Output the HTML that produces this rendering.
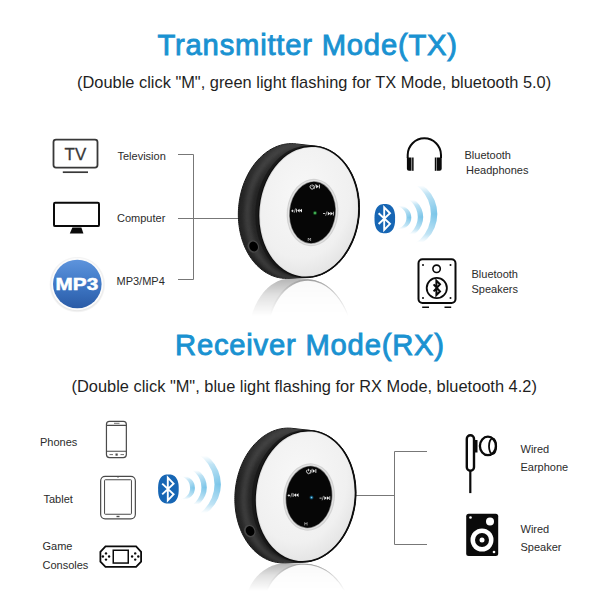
<!DOCTYPE html>
<html><head><meta charset="utf-8">
<style>
html,body{margin:0;padding:0;background:#fff;width:600px;height:600px;overflow:hidden}
svg{display:block}
text{font-family:"Liberation Sans",sans-serif}
.t{fill:#1a92d1;stroke:#1a92d1;stroke-width:0.9px;font-size:29.2px;letter-spacing:0.8px}
.s{fill:#1f1f1f;font-size:16.4px}
.l{fill:#2b2b2b;font-size:11px}
.ln{stroke:#777;stroke-width:1;fill:none}
</style></head><body>
<svg width="600" height="600" viewBox="0 0 600 600">
<defs>
<linearGradient id="bodyG" x1="250" y1="143" x2="280" y2="279" gradientUnits="userSpaceOnUse">
<stop offset="0" stop-color="#363636"/>
<stop offset="0.35" stop-color="#242424"/>
<stop offset="0.75" stop-color="#262626"/>
<stop offset="1" stop-color="#151515"/>
</linearGradient>
<radialGradient id="faceG" cx="0.42" cy="0.38" r="0.65">
<stop offset="0" stop-color="#f8f8f8"/>
<stop offset="0.75" stop-color="#f0f0f0"/>
<stop offset="1" stop-color="#e4e4e4"/>
</radialGradient>
<linearGradient id="reflGr" x1="0" y1="278" x2="0" y2="316" gradientUnits="userSpaceOnUse">
<stop offset="0" stop-color="#fff" stop-opacity="0.55"/>
<stop offset="0.5" stop-color="#fff" stop-opacity="0.25"/>
<stop offset="1" stop-color="#fff" stop-opacity="0"/>
</linearGradient>
<mask id="reflM" maskUnits="userSpaceOnUse" x="0" y="0" width="600" height="600"><rect x="0" y="278.5" width="600" height="40" fill="url(#reflGr)"/></mask>
<radialGradient id="dotG"><stop offset="0" stop-color="#8fe08f"/><stop offset="0.35" stop-color="#2a9a40"/><stop offset="1" stop-color="#0a3a12" stop-opacity="0"/></radialGradient>
<radialGradient id="dotB"><stop offset="0" stop-color="#8fd0ea"/><stop offset="0.35" stop-color="#1f7aa6"/><stop offset="1" stop-color="#0a2a3a" stop-opacity="0"/></radialGradient>
<linearGradient id="wg0" x1="0" y1="0" x2="0" y2="1"><stop offset="0" stop-color="#bfe6f5" stop-opacity="0"/><stop offset="0.5" stop-color="#8fd0ec"/><stop offset="1" stop-color="#bfe6f5" stop-opacity="0"/></linearGradient>
<linearGradient id="wg1" x1="0" y1="0" x2="0" y2="1"><stop offset="0" stop-color="#bfe6f5" stop-opacity="0"/><stop offset="0.5" stop-color="#8fd0ec"/><stop offset="1" stop-color="#bfe6f5" stop-opacity="0"/></linearGradient>
<linearGradient id="wg2" x1="0" y1="0" x2="0" y2="1"><stop offset="0" stop-color="#bfe6f5" stop-opacity="0"/><stop offset="0.5" stop-color="#8fd0ec"/><stop offset="1" stop-color="#bfe6f5" stop-opacity="0"/></linearGradient>
<linearGradient id="wv0" x1="393.52" y1="0" x2="411.3" y2="0" gradientUnits="userSpaceOnUse"><stop offset="0" stop-color="#cdeaf8"/><stop offset="1" stop-color="#78c4e8"/></linearGradient><linearGradient id="wmg0" x1="0" y1="205.77" x2="0" y2="229.23" gradientUnits="userSpaceOnUse"><stop offset="0" stop-color="#fff" stop-opacity="0"/><stop offset="0.15" stop-color="#fff" stop-opacity="0.55"/><stop offset="0.5" stop-color="#fff" stop-opacity="1"/><stop offset="0.85" stop-color="#fff" stop-opacity="0.55"/><stop offset="1" stop-color="#fff" stop-opacity="0"/></linearGradient><mask id="wm0" maskUnits="userSpaceOnUse" x="0" y="0" width="600" height="600"><rect x="377.7" y="205.77" width="43.6" height="23.45999999999998" fill="url(#wmg0)"/></mask><linearGradient id="wv1" x1="394.48" y1="0" x2="423.2" y2="0" gradientUnits="userSpaceOnUse"><stop offset="0" stop-color="#cdeaf8"/><stop offset="1" stop-color="#78c4e8"/></linearGradient><linearGradient id="wmg1" x1="0" y1="199.864" x2="0" y2="234.136" gradientUnits="userSpaceOnUse"><stop offset="0" stop-color="#fff" stop-opacity="0"/><stop offset="0.15" stop-color="#fff" stop-opacity="0.55"/><stop offset="0.5" stop-color="#fff" stop-opacity="1"/><stop offset="0.85" stop-color="#fff" stop-opacity="0.55"/><stop offset="1" stop-color="#fff" stop-opacity="0"/></linearGradient><mask id="wm1" maskUnits="userSpaceOnUse" x="0" y="0" width="600" height="600"><rect x="370.8" y="199.864" width="62.4" height="34.27199999999999" fill="url(#wmg1)"/></mask><linearGradient id="wv2" x1="391.52000000000004" y1="0" x2="437.3" y2="0" gradientUnits="userSpaceOnUse"><stop offset="0" stop-color="#cdeaf8"/><stop offset="1" stop-color="#78c4e8"/></linearGradient><linearGradient id="wmg2" x1="0" y1="185.44" x2="0" y2="242.56" gradientUnits="userSpaceOnUse"><stop offset="0" stop-color="#fff" stop-opacity="0"/><stop offset="0.15" stop-color="#fff" stop-opacity="0.55"/><stop offset="0.5" stop-color="#fff" stop-opacity="1"/><stop offset="0.85" stop-color="#fff" stop-opacity="0.55"/><stop offset="1" stop-color="#fff" stop-opacity="0"/></linearGradient><mask id="wm2" maskUnits="userSpaceOnUse" x="0" y="0" width="600" height="600"><rect x="355.7" y="185.44" width="91.6" height="57.120000000000005" fill="url(#wmg2)"/></mask><filter id="bblur" x="-20%" y="-20%" width="140%" height="140%"><feGaussianBlur stdDeviation="2.5"/></filter><filter id="wblur" x="-20%" y="-20%" width="140%" height="140%"><feGaussianBlur stdDeviation="0.7"/></filter></defs>

<text class="t" x="157.5" y="55">Transmitter Mode(TX)</text>
<text class="s" x="77" y="87.5">(Double click "M", green light flashing for TX Mode, bluetooth 5.0)</text>
<text class="t" x="175" y="355">Receiver Mode(RX)</text>
<text class="s" x="71.5" y="391.5">(Double click "M", blue light flashing for RX Mode, bluetooth 4.2)</text>
<text class="l" x="117.5" y="159.5">Television</text>
<text class="l" x="117" y="221.5">Computer</text>
<text class="l" x="116.5" y="284.5">MP3/MP4</text>
<text class="l" x="464.5" y="159.3">Bluetooth</text>
<text class="l" x="466" y="173.8">Headphones</text>
<text class="l" x="471.5" y="277.7">Bluetooth</text>
<text class="l" x="471.5" y="293">Speakers</text>
<text class="l" x="40" y="445.5">Phones</text>
<text class="l" x="43.5" y="503">Tablet</text>
<text class="l" x="42.5" y="549.5">Game</text>
<text class="l" x="42.5" y="568.5">Consoles</text>
<text class="l" x="520.5" y="453.4">Wired</text>
<text class="l" x="520.5" y="471.2">Earphone</text>
<text class="l" x="520.5" y="532.5">Wired</text>
<text class="l" x="520.5" y="550.5">Speaker</text>
<path class="ln" d="M178 154.5H193.5V279.5H178M178 218.5H240"/>
<path class="ln" d="M356 495.5H394.5M427 451.5H394.5V544.5H427"/>

<g transform="translate(0 0)"><g mask="url(#reflM0)"><g transform="translate(302 557.00) scale(0.88 -1.0) translate(-300 0)"><path d="M238.35 215.06 L238.36 212.95 L238.42 210.83 L238.53 208.71 L238.69 206.60 L238.90 204.49 L239.16 202.39 L239.47 200.29 L239.83 198.21 L240.23 196.13 L240.69 194.08 L241.19 192.04 L241.74 190.01 L242.33 188.01 L242.97 186.03 L243.66 184.08 L244.39 182.15 L245.17 180.26 L245.98 178.39 L246.85 176.55 L247.75 174.75 L248.69 172.98 L249.68 171.25 L250.70 169.56 L251.76 167.91 L252.85 166.31 L253.99 164.75 L255.15 163.23 L256.35 161.76 L257.59 160.34 L258.85 158.97 L260.14 157.65 L261.47 156.38 L262.81 155.17 L264.19 154.01 L265.59 152.91 L267.01 151.87 L268.45 150.88 L269.92 149.95 L271.40 149.09 L272.90 148.28 L274.42 147.54 L275.95 146.86 L277.49 146.24 L279.05 145.69 L280.61 145.20 L282.19 144.77 L283.77 144.42 L285.35 144.12 L286.94 143.90 L288.53 143.74 L290.12 143.64 L291.71 143.61 L293.30 143.65 L294.88 143.76 L296.46 143.93 L315.90 146.16 L317.47 146.36 L319.03 146.62 L320.58 146.95 L322.11 147.34 L323.64 147.79 L325.15 148.31 L326.65 148.89 L328.12 149.53 L329.58 150.23 L331.02 151.00 L332.44 151.82 L333.83 152.71 L335.20 153.65 L336.54 154.65 L337.86 155.70 L339.14 156.81 L340.40 157.98 L341.63 159.20 L342.82 160.47 L343.98 161.79 L345.11 163.16 L346.20 164.58 L347.26 166.04 L348.27 167.55 L349.25 169.10 L350.19 170.70 L351.09 172.34 L351.94 174.01 L352.76 175.72 L353.53 177.47 L354.25 179.25 L354.93 181.07 L355.57 182.91 L356.16 184.79 L356.70 186.69 L357.20 188.61 L357.65 190.56 L358.05 192.53 L358.40 194.51 L358.71 196.52 L358.96 198.54 L359.17 200.57 L359.32 202.61 L359.43 204.67 L359.49 206.72 L359.49 208.79 L359.45 210.86 L359.36 212.93 L359.22 214.99 L359.02 217.06 L358.78 219.12 L358.49 221.17 L358.15 223.21 L357.77 225.24 L357.33 227.26 L356.85 229.26 L356.31 231.25 L355.74 233.22 L355.11 235.16 L354.44 237.08 L353.73 238.98 L352.97 240.85 L352.17 242.69 L351.33 244.50 L350.44 246.28 L349.51 248.03 L348.55 249.74 L347.54 251.41 L346.50 253.04 L345.42 254.63 L344.30 256.18 L343.15 257.69 L341.96 259.15 L340.74 260.57 L339.49 261.93 L338.22 263.25 L336.91 264.51 L335.57 265.73 L334.21 266.89 L332.82 267.99 L331.41 269.04 L329.98 270.04 L328.53 270.97 L327.05 271.85 L325.56 272.67 L324.06 273.43 L322.54 274.13 L321.00 274.76 L319.45 275.34 L317.90 275.85 L316.33 276.30 L314.76 276.68 L313.18 277.00 L311.60 277.26 L310.01 277.45 L308.43 277.58 L306.84 277.64 L287.88 278.36 L286.29 278.39 L284.70 278.35 L283.12 278.24 L281.54 278.07 L279.97 277.83 L278.41 277.53 L276.86 277.16 L275.32 276.73 L273.79 276.23 L272.28 275.66 L270.79 275.04 L269.32 274.35 L267.86 273.59 L266.42 272.78 L265.01 271.90 L263.62 270.96 L262.26 269.97 L260.92 268.92 L259.61 267.81 L258.33 266.64 L257.08 265.42 L255.86 264.14 L254.67 262.81 L253.52 261.43 L252.40 260.01 L251.32 258.53 L250.27 257.01 L249.27 255.44 L248.30 253.82 L247.37 252.17 L246.49 250.47 L245.64 248.74 L244.84 246.96 L244.08 245.16 L243.37 243.31 L242.70 241.44 L242.08 239.54 L241.50 237.61 L240.98 235.65 L240.49 233.67 L240.06 231.66 L239.67 229.64 L239.34 227.59 L239.05 225.53 L238.81 223.46 L238.62 221.37 L238.48 219.28 L238.39 217.17Z" fill="#9a9a9a"/><ellipse cx="309" cy="211.8" rx="50.3" ry="66" fill="#777" transform="rotate(6 309 211.8)"/><ellipse cx="309.5" cy="211.8" rx="48.8" ry="64.6" fill="#f6f6f6" transform="rotate(6 309 211.8)"/></g></g><defs><linearGradient id="reflGr0" x1="0" y1="278" x2="0" y2="316.0" gradientUnits="userSpaceOnUse"><stop offset="0" stop-color="#fff" stop-opacity="0.75"/><stop offset="0.45" stop-color="#fff" stop-opacity="0.3"/><stop offset="1" stop-color="#fff" stop-opacity="0"/></linearGradient><mask id="reflM0" maskUnits="userSpaceOnUse" x="0" y="0" width="600" height="600"><rect x="0" y="278.5" width="600" height="40" fill="url(#reflGr0)"/></mask></defs><path d="M238.35 215.06 L238.36 212.95 L238.42 210.83 L238.53 208.71 L238.69 206.60 L238.90 204.49 L239.16 202.39 L239.47 200.29 L239.83 198.21 L240.23 196.13 L240.69 194.08 L241.19 192.04 L241.74 190.01 L242.33 188.01 L242.97 186.03 L243.66 184.08 L244.39 182.15 L245.17 180.26 L245.98 178.39 L246.85 176.55 L247.75 174.75 L248.69 172.98 L249.68 171.25 L250.70 169.56 L251.76 167.91 L252.85 166.31 L253.99 164.75 L255.15 163.23 L256.35 161.76 L257.59 160.34 L258.85 158.97 L260.14 157.65 L261.47 156.38 L262.81 155.17 L264.19 154.01 L265.59 152.91 L267.01 151.87 L268.45 150.88 L269.92 149.95 L271.40 149.09 L272.90 148.28 L274.42 147.54 L275.95 146.86 L277.49 146.24 L279.05 145.69 L280.61 145.20 L282.19 144.77 L283.77 144.42 L285.35 144.12 L286.94 143.90 L288.53 143.74 L290.12 143.64 L291.71 143.61 L293.30 143.65 L294.88 143.76 L296.46 143.93 L315.90 146.16 L317.47 146.36 L319.03 146.62 L320.58 146.95 L322.11 147.34 L323.64 147.79 L325.15 148.31 L326.65 148.89 L328.12 149.53 L329.58 150.23 L331.02 151.00 L332.44 151.82 L333.83 152.71 L335.20 153.65 L336.54 154.65 L337.86 155.70 L339.14 156.81 L340.40 157.98 L341.63 159.20 L342.82 160.47 L343.98 161.79 L345.11 163.16 L346.20 164.58 L347.26 166.04 L348.27 167.55 L349.25 169.10 L350.19 170.70 L351.09 172.34 L351.94 174.01 L352.76 175.72 L353.53 177.47 L354.25 179.25 L354.93 181.07 L355.57 182.91 L356.16 184.79 L356.70 186.69 L357.20 188.61 L357.65 190.56 L358.05 192.53 L358.40 194.51 L358.71 196.52 L358.96 198.54 L359.17 200.57 L359.32 202.61 L359.43 204.67 L359.49 206.72 L359.49 208.79 L359.45 210.86 L359.36 212.93 L359.22 214.99 L359.02 217.06 L358.78 219.12 L358.49 221.17 L358.15 223.21 L357.77 225.24 L357.33 227.26 L356.85 229.26 L356.31 231.25 L355.74 233.22 L355.11 235.16 L354.44 237.08 L353.73 238.98 L352.97 240.85 L352.17 242.69 L351.33 244.50 L350.44 246.28 L349.51 248.03 L348.55 249.74 L347.54 251.41 L346.50 253.04 L345.42 254.63 L344.30 256.18 L343.15 257.69 L341.96 259.15 L340.74 260.57 L339.49 261.93 L338.22 263.25 L336.91 264.51 L335.57 265.73 L334.21 266.89 L332.82 267.99 L331.41 269.04 L329.98 270.04 L328.53 270.97 L327.05 271.85 L325.56 272.67 L324.06 273.43 L322.54 274.13 L321.00 274.76 L319.45 275.34 L317.90 275.85 L316.33 276.30 L314.76 276.68 L313.18 277.00 L311.60 277.26 L310.01 277.45 L308.43 277.58 L306.84 277.64 L287.88 278.36 L286.29 278.39 L284.70 278.35 L283.12 278.24 L281.54 278.07 L279.97 277.83 L278.41 277.53 L276.86 277.16 L275.32 276.73 L273.79 276.23 L272.28 275.66 L270.79 275.04 L269.32 274.35 L267.86 273.59 L266.42 272.78 L265.01 271.90 L263.62 270.96 L262.26 269.97 L260.92 268.92 L259.61 267.81 L258.33 266.64 L257.08 265.42 L255.86 264.14 L254.67 262.81 L253.52 261.43 L252.40 260.01 L251.32 258.53 L250.27 257.01 L249.27 255.44 L248.30 253.82 L247.37 252.17 L246.49 250.47 L245.64 248.74 L244.84 246.96 L244.08 245.16 L243.37 243.31 L242.70 241.44 L242.08 239.54 L241.50 237.61 L240.98 235.65 L240.49 233.67 L240.06 231.66 L239.67 229.64 L239.34 227.59 L239.05 225.53 L238.81 223.46 L238.62 221.37 L238.48 219.28 L238.39 217.17Z" fill="url(#bodyG)" stroke="#181818" stroke-width="1"/><clipPath id="bc0"><path d="M238.35 215.06 L238.36 212.95 L238.42 210.83 L238.53 208.71 L238.69 206.60 L238.90 204.49 L239.16 202.39 L239.47 200.29 L239.83 198.21 L240.23 196.13 L240.69 194.08 L241.19 192.04 L241.74 190.01 L242.33 188.01 L242.97 186.03 L243.66 184.08 L244.39 182.15 L245.17 180.26 L245.98 178.39 L246.85 176.55 L247.75 174.75 L248.69 172.98 L249.68 171.25 L250.70 169.56 L251.76 167.91 L252.85 166.31 L253.99 164.75 L255.15 163.23 L256.35 161.76 L257.59 160.34 L258.85 158.97 L260.14 157.65 L261.47 156.38 L262.81 155.17 L264.19 154.01 L265.59 152.91 L267.01 151.87 L268.45 150.88 L269.92 149.95 L271.40 149.09 L272.90 148.28 L274.42 147.54 L275.95 146.86 L277.49 146.24 L279.05 145.69 L280.61 145.20 L282.19 144.77 L283.77 144.42 L285.35 144.12 L286.94 143.90 L288.53 143.74 L290.12 143.64 L291.71 143.61 L293.30 143.65 L294.88 143.76 L296.46 143.93 L315.90 146.16 L317.47 146.36 L319.03 146.62 L320.58 146.95 L322.11 147.34 L323.64 147.79 L325.15 148.31 L326.65 148.89 L328.12 149.53 L329.58 150.23 L331.02 151.00 L332.44 151.82 L333.83 152.71 L335.20 153.65 L336.54 154.65 L337.86 155.70 L339.14 156.81 L340.40 157.98 L341.63 159.20 L342.82 160.47 L343.98 161.79 L345.11 163.16 L346.20 164.58 L347.26 166.04 L348.27 167.55 L349.25 169.10 L350.19 170.70 L351.09 172.34 L351.94 174.01 L352.76 175.72 L353.53 177.47 L354.25 179.25 L354.93 181.07 L355.57 182.91 L356.16 184.79 L356.70 186.69 L357.20 188.61 L357.65 190.56 L358.05 192.53 L358.40 194.51 L358.71 196.52 L358.96 198.54 L359.17 200.57 L359.32 202.61 L359.43 204.67 L359.49 206.72 L359.49 208.79 L359.45 210.86 L359.36 212.93 L359.22 214.99 L359.02 217.06 L358.78 219.12 L358.49 221.17 L358.15 223.21 L357.77 225.24 L357.33 227.26 L356.85 229.26 L356.31 231.25 L355.74 233.22 L355.11 235.16 L354.44 237.08 L353.73 238.98 L352.97 240.85 L352.17 242.69 L351.33 244.50 L350.44 246.28 L349.51 248.03 L348.55 249.74 L347.54 251.41 L346.50 253.04 L345.42 254.63 L344.30 256.18 L343.15 257.69 L341.96 259.15 L340.74 260.57 L339.49 261.93 L338.22 263.25 L336.91 264.51 L335.57 265.73 L334.21 266.89 L332.82 267.99 L331.41 269.04 L329.98 270.04 L328.53 270.97 L327.05 271.85 L325.56 272.67 L324.06 273.43 L322.54 274.13 L321.00 274.76 L319.45 275.34 L317.90 275.85 L316.33 276.30 L314.76 276.68 L313.18 277.00 L311.60 277.26 L310.01 277.45 L308.43 277.58 L306.84 277.64 L287.88 278.36 L286.29 278.39 L284.70 278.35 L283.12 278.24 L281.54 278.07 L279.97 277.83 L278.41 277.53 L276.86 277.16 L275.32 276.73 L273.79 276.23 L272.28 275.66 L270.79 275.04 L269.32 274.35 L267.86 273.59 L266.42 272.78 L265.01 271.90 L263.62 270.96 L262.26 269.97 L260.92 268.92 L259.61 267.81 L258.33 266.64 L257.08 265.42 L255.86 264.14 L254.67 262.81 L253.52 261.43 L252.40 260.01 L251.32 258.53 L250.27 257.01 L249.27 255.44 L248.30 253.82 L247.37 252.17 L246.49 250.47 L245.64 248.74 L244.84 246.96 L244.08 245.16 L243.37 243.31 L242.70 241.44 L242.08 239.54 L241.50 237.61 L240.98 235.65 L240.49 233.67 L240.06 231.66 L239.67 229.64 L239.34 227.59 L239.05 225.53 L238.81 223.46 L238.62 221.37 L238.48 219.28 L238.39 217.17Z"/></clipPath><g clip-path="url(#bc0)"><ellipse cx="299" cy="211.5" rx="51.5" ry="67" fill="none" stroke="#505050" stroke-width="5" filter="url(#bblur)" transform="rotate(5 299 211.5)" opacity="0.8"/></g><ellipse cx="307.5" cy="211.8" rx="52" ry="66.6" fill="#161616" opacity="0.8" transform="rotate(6 309 211.8)"/><ellipse cx="309" cy="211.8" rx="50.5" ry="66.2" fill="#0c0c0c" transform="rotate(6 309 211.8)"/><ellipse cx="308.7" cy="211.8" rx="49.2" ry="65" fill="#d8d8d8" transform="rotate(6 309 211.8)"/><ellipse cx="309" cy="211.8" rx="48.6" ry="64.4" fill="url(#faceG)" transform="rotate(6 309 211.8)"/><ellipse cx="253.3" cy="246.5" rx="5.6" ry="6.4" fill="#484848" transform="rotate(-25 253.3 246.5)"/><ellipse cx="253.6" cy="246.5" rx="4.2" ry="5.1" fill="#000" transform="rotate(-25 253.6 246.5)"/><ellipse cx="312.5" cy="212.5" rx="25.8" ry="33.8" fill="#d2d2d2" transform="rotate(6 312.5 212.5)"/><ellipse cx="312.5" cy="212.5" rx="24.6" ry="32.6" fill="#e4e4e4" transform="rotate(6 312.5 212.5)"/><ellipse cx="312.5" cy="212.5" rx="23.4" ry="31.4" fill="#8a8a8a" transform="rotate(6 312.5 212.5)"/><ellipse cx="312.5" cy="212.5" rx="22.7" ry="30.7" fill="#060606" transform="rotate(6 312.5 212.5)"/><g fill="#eee" stroke="none"><g transform="translate(1.5 0)"><path d="M309.3 185.2a2 2.2 0 1 0 2.6 0" fill="none" stroke="#eee" stroke-width="0.9"/><rect x="310.2" y="184.3" width="0.8" height="2.4"/><path d="M312.6 189.2l1.6-5" stroke="#eee" stroke-width="0.6"/><path d="M314.6 184.6l2.6 1.9-2.6 1.9z"/><rect x="317.4" y="184.6" width="0.9" height="3.8"/></g><g transform="translate(1 -0.5)"><rect x="290.2" y="211" width="2.4" height="0.8"/><rect x="291" y="210.2" width="0.8" height="2.4"/><path d="M293.2 213.3l1.4-4.4" stroke="#eee" stroke-width="0.6"/><rect x="295.2" y="209.3" width="0.8" height="3.6"/><path d="M298.6 209.3v3.6l-2.4-1.8z M301 209.3v3.6l-2.4-1.8z"/></g><g transform="translate(0.6 0.6)"><rect x="322.4" y="212.6" width="2.2" height="0.8"/><path d="M325 215.2l1.4-4.4" stroke="#eee" stroke-width="0.6"/><path d="M327.2 211.1v3.8l2.5-1.9z M329.8 211.1v3.8l2.5-1.9z"/><rect x="332.3" y="211.1" width="0.8" height="3.8"/></g><path d="M308.2 241v-3l1.2 1.6 1.2-1.6v3" fill="none" stroke="#ccc" stroke-width="0.6"/></g><circle cx="315" cy="213" r="2.6" fill="url(#dotG)"/></g>
<g transform="translate(-3.5 284.5)"><g mask="url(#reflM-3.5)"><g transform="translate(302 487.38) scale(0.88 -0.75) translate(-300 0)"><path d="M238.35 215.06 L238.36 212.95 L238.42 210.83 L238.53 208.71 L238.69 206.60 L238.90 204.49 L239.16 202.39 L239.47 200.29 L239.83 198.21 L240.23 196.13 L240.69 194.08 L241.19 192.04 L241.74 190.01 L242.33 188.01 L242.97 186.03 L243.66 184.08 L244.39 182.15 L245.17 180.26 L245.98 178.39 L246.85 176.55 L247.75 174.75 L248.69 172.98 L249.68 171.25 L250.70 169.56 L251.76 167.91 L252.85 166.31 L253.99 164.75 L255.15 163.23 L256.35 161.76 L257.59 160.34 L258.85 158.97 L260.14 157.65 L261.47 156.38 L262.81 155.17 L264.19 154.01 L265.59 152.91 L267.01 151.87 L268.45 150.88 L269.92 149.95 L271.40 149.09 L272.90 148.28 L274.42 147.54 L275.95 146.86 L277.49 146.24 L279.05 145.69 L280.61 145.20 L282.19 144.77 L283.77 144.42 L285.35 144.12 L286.94 143.90 L288.53 143.74 L290.12 143.64 L291.71 143.61 L293.30 143.65 L294.88 143.76 L296.46 143.93 L315.90 146.16 L317.47 146.36 L319.03 146.62 L320.58 146.95 L322.11 147.34 L323.64 147.79 L325.15 148.31 L326.65 148.89 L328.12 149.53 L329.58 150.23 L331.02 151.00 L332.44 151.82 L333.83 152.71 L335.20 153.65 L336.54 154.65 L337.86 155.70 L339.14 156.81 L340.40 157.98 L341.63 159.20 L342.82 160.47 L343.98 161.79 L345.11 163.16 L346.20 164.58 L347.26 166.04 L348.27 167.55 L349.25 169.10 L350.19 170.70 L351.09 172.34 L351.94 174.01 L352.76 175.72 L353.53 177.47 L354.25 179.25 L354.93 181.07 L355.57 182.91 L356.16 184.79 L356.70 186.69 L357.20 188.61 L357.65 190.56 L358.05 192.53 L358.40 194.51 L358.71 196.52 L358.96 198.54 L359.17 200.57 L359.32 202.61 L359.43 204.67 L359.49 206.72 L359.49 208.79 L359.45 210.86 L359.36 212.93 L359.22 214.99 L359.02 217.06 L358.78 219.12 L358.49 221.17 L358.15 223.21 L357.77 225.24 L357.33 227.26 L356.85 229.26 L356.31 231.25 L355.74 233.22 L355.11 235.16 L354.44 237.08 L353.73 238.98 L352.97 240.85 L352.17 242.69 L351.33 244.50 L350.44 246.28 L349.51 248.03 L348.55 249.74 L347.54 251.41 L346.50 253.04 L345.42 254.63 L344.30 256.18 L343.15 257.69 L341.96 259.15 L340.74 260.57 L339.49 261.93 L338.22 263.25 L336.91 264.51 L335.57 265.73 L334.21 266.89 L332.82 267.99 L331.41 269.04 L329.98 270.04 L328.53 270.97 L327.05 271.85 L325.56 272.67 L324.06 273.43 L322.54 274.13 L321.00 274.76 L319.45 275.34 L317.90 275.85 L316.33 276.30 L314.76 276.68 L313.18 277.00 L311.60 277.26 L310.01 277.45 L308.43 277.58 L306.84 277.64 L287.88 278.36 L286.29 278.39 L284.70 278.35 L283.12 278.24 L281.54 278.07 L279.97 277.83 L278.41 277.53 L276.86 277.16 L275.32 276.73 L273.79 276.23 L272.28 275.66 L270.79 275.04 L269.32 274.35 L267.86 273.59 L266.42 272.78 L265.01 271.90 L263.62 270.96 L262.26 269.97 L260.92 268.92 L259.61 267.81 L258.33 266.64 L257.08 265.42 L255.86 264.14 L254.67 262.81 L253.52 261.43 L252.40 260.01 L251.32 258.53 L250.27 257.01 L249.27 255.44 L248.30 253.82 L247.37 252.17 L246.49 250.47 L245.64 248.74 L244.84 246.96 L244.08 245.16 L243.37 243.31 L242.70 241.44 L242.08 239.54 L241.50 237.61 L240.98 235.65 L240.49 233.67 L240.06 231.66 L239.67 229.64 L239.34 227.59 L239.05 225.53 L238.81 223.46 L238.62 221.37 L238.48 219.28 L238.39 217.17Z" fill="#9a9a9a"/><ellipse cx="309" cy="211.8" rx="50.3" ry="66" fill="#777" transform="rotate(6 309 211.8)"/><ellipse cx="309.5" cy="211.8" rx="48.8" ry="64.6" fill="#f6f6f6" transform="rotate(6 309 211.8)"/></g></g><defs><linearGradient id="reflGr-3.5" x1="0" y1="278" x2="0" y2="306.5" gradientUnits="userSpaceOnUse"><stop offset="0" stop-color="#fff" stop-opacity="0.75"/><stop offset="0.45" stop-color="#fff" stop-opacity="0.3"/><stop offset="1" stop-color="#fff" stop-opacity="0"/></linearGradient><mask id="reflM-3.5" maskUnits="userSpaceOnUse" x="0" y="0" width="600" height="600"><rect x="0" y="278.5" width="600" height="40" fill="url(#reflGr-3.5)"/></mask></defs><path d="M238.35 215.06 L238.36 212.95 L238.42 210.83 L238.53 208.71 L238.69 206.60 L238.90 204.49 L239.16 202.39 L239.47 200.29 L239.83 198.21 L240.23 196.13 L240.69 194.08 L241.19 192.04 L241.74 190.01 L242.33 188.01 L242.97 186.03 L243.66 184.08 L244.39 182.15 L245.17 180.26 L245.98 178.39 L246.85 176.55 L247.75 174.75 L248.69 172.98 L249.68 171.25 L250.70 169.56 L251.76 167.91 L252.85 166.31 L253.99 164.75 L255.15 163.23 L256.35 161.76 L257.59 160.34 L258.85 158.97 L260.14 157.65 L261.47 156.38 L262.81 155.17 L264.19 154.01 L265.59 152.91 L267.01 151.87 L268.45 150.88 L269.92 149.95 L271.40 149.09 L272.90 148.28 L274.42 147.54 L275.95 146.86 L277.49 146.24 L279.05 145.69 L280.61 145.20 L282.19 144.77 L283.77 144.42 L285.35 144.12 L286.94 143.90 L288.53 143.74 L290.12 143.64 L291.71 143.61 L293.30 143.65 L294.88 143.76 L296.46 143.93 L315.90 146.16 L317.47 146.36 L319.03 146.62 L320.58 146.95 L322.11 147.34 L323.64 147.79 L325.15 148.31 L326.65 148.89 L328.12 149.53 L329.58 150.23 L331.02 151.00 L332.44 151.82 L333.83 152.71 L335.20 153.65 L336.54 154.65 L337.86 155.70 L339.14 156.81 L340.40 157.98 L341.63 159.20 L342.82 160.47 L343.98 161.79 L345.11 163.16 L346.20 164.58 L347.26 166.04 L348.27 167.55 L349.25 169.10 L350.19 170.70 L351.09 172.34 L351.94 174.01 L352.76 175.72 L353.53 177.47 L354.25 179.25 L354.93 181.07 L355.57 182.91 L356.16 184.79 L356.70 186.69 L357.20 188.61 L357.65 190.56 L358.05 192.53 L358.40 194.51 L358.71 196.52 L358.96 198.54 L359.17 200.57 L359.32 202.61 L359.43 204.67 L359.49 206.72 L359.49 208.79 L359.45 210.86 L359.36 212.93 L359.22 214.99 L359.02 217.06 L358.78 219.12 L358.49 221.17 L358.15 223.21 L357.77 225.24 L357.33 227.26 L356.85 229.26 L356.31 231.25 L355.74 233.22 L355.11 235.16 L354.44 237.08 L353.73 238.98 L352.97 240.85 L352.17 242.69 L351.33 244.50 L350.44 246.28 L349.51 248.03 L348.55 249.74 L347.54 251.41 L346.50 253.04 L345.42 254.63 L344.30 256.18 L343.15 257.69 L341.96 259.15 L340.74 260.57 L339.49 261.93 L338.22 263.25 L336.91 264.51 L335.57 265.73 L334.21 266.89 L332.82 267.99 L331.41 269.04 L329.98 270.04 L328.53 270.97 L327.05 271.85 L325.56 272.67 L324.06 273.43 L322.54 274.13 L321.00 274.76 L319.45 275.34 L317.90 275.85 L316.33 276.30 L314.76 276.68 L313.18 277.00 L311.60 277.26 L310.01 277.45 L308.43 277.58 L306.84 277.64 L287.88 278.36 L286.29 278.39 L284.70 278.35 L283.12 278.24 L281.54 278.07 L279.97 277.83 L278.41 277.53 L276.86 277.16 L275.32 276.73 L273.79 276.23 L272.28 275.66 L270.79 275.04 L269.32 274.35 L267.86 273.59 L266.42 272.78 L265.01 271.90 L263.62 270.96 L262.26 269.97 L260.92 268.92 L259.61 267.81 L258.33 266.64 L257.08 265.42 L255.86 264.14 L254.67 262.81 L253.52 261.43 L252.40 260.01 L251.32 258.53 L250.27 257.01 L249.27 255.44 L248.30 253.82 L247.37 252.17 L246.49 250.47 L245.64 248.74 L244.84 246.96 L244.08 245.16 L243.37 243.31 L242.70 241.44 L242.08 239.54 L241.50 237.61 L240.98 235.65 L240.49 233.67 L240.06 231.66 L239.67 229.64 L239.34 227.59 L239.05 225.53 L238.81 223.46 L238.62 221.37 L238.48 219.28 L238.39 217.17Z" fill="url(#bodyG)" stroke="#181818" stroke-width="1"/><clipPath id="bc-3.5"><path d="M238.35 215.06 L238.36 212.95 L238.42 210.83 L238.53 208.71 L238.69 206.60 L238.90 204.49 L239.16 202.39 L239.47 200.29 L239.83 198.21 L240.23 196.13 L240.69 194.08 L241.19 192.04 L241.74 190.01 L242.33 188.01 L242.97 186.03 L243.66 184.08 L244.39 182.15 L245.17 180.26 L245.98 178.39 L246.85 176.55 L247.75 174.75 L248.69 172.98 L249.68 171.25 L250.70 169.56 L251.76 167.91 L252.85 166.31 L253.99 164.75 L255.15 163.23 L256.35 161.76 L257.59 160.34 L258.85 158.97 L260.14 157.65 L261.47 156.38 L262.81 155.17 L264.19 154.01 L265.59 152.91 L267.01 151.87 L268.45 150.88 L269.92 149.95 L271.40 149.09 L272.90 148.28 L274.42 147.54 L275.95 146.86 L277.49 146.24 L279.05 145.69 L280.61 145.20 L282.19 144.77 L283.77 144.42 L285.35 144.12 L286.94 143.90 L288.53 143.74 L290.12 143.64 L291.71 143.61 L293.30 143.65 L294.88 143.76 L296.46 143.93 L315.90 146.16 L317.47 146.36 L319.03 146.62 L320.58 146.95 L322.11 147.34 L323.64 147.79 L325.15 148.31 L326.65 148.89 L328.12 149.53 L329.58 150.23 L331.02 151.00 L332.44 151.82 L333.83 152.71 L335.20 153.65 L336.54 154.65 L337.86 155.70 L339.14 156.81 L340.40 157.98 L341.63 159.20 L342.82 160.47 L343.98 161.79 L345.11 163.16 L346.20 164.58 L347.26 166.04 L348.27 167.55 L349.25 169.10 L350.19 170.70 L351.09 172.34 L351.94 174.01 L352.76 175.72 L353.53 177.47 L354.25 179.25 L354.93 181.07 L355.57 182.91 L356.16 184.79 L356.70 186.69 L357.20 188.61 L357.65 190.56 L358.05 192.53 L358.40 194.51 L358.71 196.52 L358.96 198.54 L359.17 200.57 L359.32 202.61 L359.43 204.67 L359.49 206.72 L359.49 208.79 L359.45 210.86 L359.36 212.93 L359.22 214.99 L359.02 217.06 L358.78 219.12 L358.49 221.17 L358.15 223.21 L357.77 225.24 L357.33 227.26 L356.85 229.26 L356.31 231.25 L355.74 233.22 L355.11 235.16 L354.44 237.08 L353.73 238.98 L352.97 240.85 L352.17 242.69 L351.33 244.50 L350.44 246.28 L349.51 248.03 L348.55 249.74 L347.54 251.41 L346.50 253.04 L345.42 254.63 L344.30 256.18 L343.15 257.69 L341.96 259.15 L340.74 260.57 L339.49 261.93 L338.22 263.25 L336.91 264.51 L335.57 265.73 L334.21 266.89 L332.82 267.99 L331.41 269.04 L329.98 270.04 L328.53 270.97 L327.05 271.85 L325.56 272.67 L324.06 273.43 L322.54 274.13 L321.00 274.76 L319.45 275.34 L317.90 275.85 L316.33 276.30 L314.76 276.68 L313.18 277.00 L311.60 277.26 L310.01 277.45 L308.43 277.58 L306.84 277.64 L287.88 278.36 L286.29 278.39 L284.70 278.35 L283.12 278.24 L281.54 278.07 L279.97 277.83 L278.41 277.53 L276.86 277.16 L275.32 276.73 L273.79 276.23 L272.28 275.66 L270.79 275.04 L269.32 274.35 L267.86 273.59 L266.42 272.78 L265.01 271.90 L263.62 270.96 L262.26 269.97 L260.92 268.92 L259.61 267.81 L258.33 266.64 L257.08 265.42 L255.86 264.14 L254.67 262.81 L253.52 261.43 L252.40 260.01 L251.32 258.53 L250.27 257.01 L249.27 255.44 L248.30 253.82 L247.37 252.17 L246.49 250.47 L245.64 248.74 L244.84 246.96 L244.08 245.16 L243.37 243.31 L242.70 241.44 L242.08 239.54 L241.50 237.61 L240.98 235.65 L240.49 233.67 L240.06 231.66 L239.67 229.64 L239.34 227.59 L239.05 225.53 L238.81 223.46 L238.62 221.37 L238.48 219.28 L238.39 217.17Z"/></clipPath><g clip-path="url(#bc-3.5)"><ellipse cx="299" cy="211.5" rx="51.5" ry="67" fill="none" stroke="#505050" stroke-width="5" filter="url(#bblur)" transform="rotate(5 299 211.5)" opacity="0.8"/></g><ellipse cx="307.5" cy="211.8" rx="52" ry="66.6" fill="#161616" opacity="0.8" transform="rotate(6 309 211.8)"/><ellipse cx="309" cy="211.8" rx="50.5" ry="66.2" fill="#0c0c0c" transform="rotate(6 309 211.8)"/><ellipse cx="308.7" cy="211.8" rx="49.2" ry="65" fill="#d8d8d8" transform="rotate(6 309 211.8)"/><ellipse cx="309" cy="211.8" rx="48.6" ry="64.4" fill="url(#faceG)" transform="rotate(6 309 211.8)"/><ellipse cx="253.3" cy="246.5" rx="5.6" ry="6.4" fill="#484848" transform="rotate(-25 253.3 246.5)"/><ellipse cx="253.6" cy="246.5" rx="4.2" ry="5.1" fill="#000" transform="rotate(-25 253.6 246.5)"/><ellipse cx="312.5" cy="212.5" rx="25.8" ry="33.8" fill="#d2d2d2" transform="rotate(6 312.5 212.5)"/><ellipse cx="312.5" cy="212.5" rx="24.6" ry="32.6" fill="#e4e4e4" transform="rotate(6 312.5 212.5)"/><ellipse cx="312.5" cy="212.5" rx="23.4" ry="31.4" fill="#8a8a8a" transform="rotate(6 312.5 212.5)"/><ellipse cx="312.5" cy="212.5" rx="22.7" ry="30.7" fill="#060606" transform="rotate(6 312.5 212.5)"/><g fill="#eee" stroke="none"><g transform="translate(1.5 0)"><path d="M309.3 185.2a2 2.2 0 1 0 2.6 0" fill="none" stroke="#eee" stroke-width="0.9"/><rect x="310.2" y="184.3" width="0.8" height="2.4"/><path d="M312.6 189.2l1.6-5" stroke="#eee" stroke-width="0.6"/><path d="M314.6 184.6l2.6 1.9-2.6 1.9z"/><rect x="317.4" y="184.6" width="0.9" height="3.8"/></g><g transform="translate(1 -0.5)"><rect x="290.2" y="211" width="2.4" height="0.8"/><rect x="291" y="210.2" width="0.8" height="2.4"/><path d="M293.2 213.3l1.4-4.4" stroke="#eee" stroke-width="0.6"/><rect x="295.2" y="209.3" width="0.8" height="3.6"/><path d="M298.6 209.3v3.6l-2.4-1.8z M301 209.3v3.6l-2.4-1.8z"/></g><g transform="translate(0.6 0.6)"><rect x="322.4" y="212.6" width="2.2" height="0.8"/><path d="M325 215.2l1.4-4.4" stroke="#eee" stroke-width="0.6"/><path d="M327.2 211.1v3.8l2.5-1.9z M329.8 211.1v3.8l2.5-1.9z"/><rect x="332.3" y="211.1" width="0.8" height="3.8"/></g><path d="M308.2 241v-3l1.2 1.6 1.2-1.6v3" fill="none" stroke="#ccc" stroke-width="0.6"/></g><circle cx="315" cy="213" r="2.6" fill="url(#dotB)"/></g>
<g transform="translate(0.00 0.00)"><path d="M395.10 218.60 L395.09 219.98 L395.05 221.00 L395.00 221.91 L394.92 222.76 L394.82 223.55 L394.69 224.31 L394.55 225.02 L394.38 225.71 L394.19 226.36 L393.98 226.99 L393.75 227.58 L393.49 228.14 L393.22 228.68 L392.92 229.19 L392.61 229.66 L392.27 230.11 L391.91 230.53 L391.53 230.92 L391.13 231.28 L390.72 231.61 L390.28 231.91 L389.82 232.18 L389.33 232.42 L388.83 232.63 L388.29 232.80 L387.73 232.94 L387.14 233.06 L386.49 233.14 L385.77 233.18 L384.80 233.20 L383.83 233.18 L383.11 233.14 L382.46 233.06 L381.87 232.94 L381.31 232.80 L380.77 232.63 L380.27 232.42 L379.78 232.18 L379.32 231.91 L378.88 231.61 L378.47 231.28 L378.07 230.92 L377.69 230.53 L377.33 230.11 L376.99 229.66 L376.68 229.19 L376.38 228.68 L376.11 228.14 L375.85 227.58 L375.62 226.99 L375.41 226.36 L375.22 225.71 L375.05 225.02 L374.91 224.31 L374.78 223.55 L374.68 222.76 L374.60 221.91 L374.55 221.00 L374.51 219.98 L374.50 218.60 L374.51 217.22 L374.55 216.20 L374.60 215.29 L374.68 214.44 L374.78 213.65 L374.91 212.89 L375.05 212.18 L375.22 211.49 L375.41 210.84 L375.62 210.21 L375.85 209.62 L376.11 209.06 L376.38 208.52 L376.68 208.01 L376.99 207.54 L377.33 207.09 L377.69 206.67 L378.07 206.28 L378.47 205.92 L378.88 205.59 L379.32 205.29 L379.78 205.02 L380.27 204.78 L380.77 204.57 L381.31 204.40 L381.87 204.26 L382.46 204.14 L383.11 204.06 L383.83 204.02 L384.80 204.00 L385.77 204.02 L386.49 204.06 L387.14 204.14 L387.73 204.26 L388.29 204.40 L388.83 204.57 L389.33 204.78 L389.82 205.02 L390.28 205.29 L390.72 205.59 L391.13 205.92 L391.53 206.28 L391.91 206.67 L392.27 207.09 L392.61 207.54 L392.92 208.01 L393.22 208.52 L393.49 209.06 L393.75 209.62 L393.98 210.21 L394.19 210.84 L394.38 211.49 L394.55 212.18 L394.69 212.89 L394.82 213.65 L394.92 214.44 L395.00 215.29 L395.05 216.20 L395.09 217.22Z" fill="#1766b4"/><path d="M378.6 213.2L390 223.9L384.2 229.9V207.3L390 213.3L378.6 224" fill="none" stroke="#fff" stroke-width="1.9" stroke-linejoin="miter" stroke-miterlimit="3"/></g>
<g transform="translate(0.00 0.00)" filter="url(#wblur)"><path d="M399.5 205.7A11.8 11.8 0 0 1 399.5 229.3L394.7 229.3A11.8 11.8 0 0 0 394.7 205.7Z" fill="url(#wv0)" mask="url(#wm0)"/><path d="M402.0 195.8A21.2 21.2 0 0 1 402.0 238.2L396.6 238.2A21.2 21.2 0 0 0 396.6 195.8Z" fill="url(#wv1)" mask="url(#wm1)"/><path d="M401.5 178.2A35.8 35.8 0 0 1 401.5 249.8L395.1 249.8A35.8 35.8 0 0 0 395.1 178.2Z" fill="url(#wv2)" mask="url(#wm2)"/></g>
<g transform="translate(-216.40 270.40)"><path d="M395.10 218.60 L395.09 219.98 L395.05 221.00 L395.00 221.91 L394.92 222.76 L394.82 223.55 L394.69 224.31 L394.55 225.02 L394.38 225.71 L394.19 226.36 L393.98 226.99 L393.75 227.58 L393.49 228.14 L393.22 228.68 L392.92 229.19 L392.61 229.66 L392.27 230.11 L391.91 230.53 L391.53 230.92 L391.13 231.28 L390.72 231.61 L390.28 231.91 L389.82 232.18 L389.33 232.42 L388.83 232.63 L388.29 232.80 L387.73 232.94 L387.14 233.06 L386.49 233.14 L385.77 233.18 L384.80 233.20 L383.83 233.18 L383.11 233.14 L382.46 233.06 L381.87 232.94 L381.31 232.80 L380.77 232.63 L380.27 232.42 L379.78 232.18 L379.32 231.91 L378.88 231.61 L378.47 231.28 L378.07 230.92 L377.69 230.53 L377.33 230.11 L376.99 229.66 L376.68 229.19 L376.38 228.68 L376.11 228.14 L375.85 227.58 L375.62 226.99 L375.41 226.36 L375.22 225.71 L375.05 225.02 L374.91 224.31 L374.78 223.55 L374.68 222.76 L374.60 221.91 L374.55 221.00 L374.51 219.98 L374.50 218.60 L374.51 217.22 L374.55 216.20 L374.60 215.29 L374.68 214.44 L374.78 213.65 L374.91 212.89 L375.05 212.18 L375.22 211.49 L375.41 210.84 L375.62 210.21 L375.85 209.62 L376.11 209.06 L376.38 208.52 L376.68 208.01 L376.99 207.54 L377.33 207.09 L377.69 206.67 L378.07 206.28 L378.47 205.92 L378.88 205.59 L379.32 205.29 L379.78 205.02 L380.27 204.78 L380.77 204.57 L381.31 204.40 L381.87 204.26 L382.46 204.14 L383.11 204.06 L383.83 204.02 L384.80 204.00 L385.77 204.02 L386.49 204.06 L387.14 204.14 L387.73 204.26 L388.29 204.40 L388.83 204.57 L389.33 204.78 L389.82 205.02 L390.28 205.29 L390.72 205.59 L391.13 205.92 L391.53 206.28 L391.91 206.67 L392.27 207.09 L392.61 207.54 L392.92 208.01 L393.22 208.52 L393.49 209.06 L393.75 209.62 L393.98 210.21 L394.19 210.84 L394.38 211.49 L394.55 212.18 L394.69 212.89 L394.82 213.65 L394.92 214.44 L395.00 215.29 L395.05 216.20 L395.09 217.22Z" fill="#1766b4"/><path d="M378.6 213.2L390 223.9L384.2 229.9V207.3L390 213.3L378.6 224" fill="none" stroke="#fff" stroke-width="1.9" stroke-linejoin="miter" stroke-miterlimit="3"/></g>
<g transform="translate(-216.40 270.40)" filter="url(#wblur)"><path d="M399.5 205.7A11.8 11.8 0 0 1 399.5 229.3L394.7 229.3A11.8 11.8 0 0 0 394.7 205.7Z" fill="url(#wv0)" mask="url(#wm0)"/><path d="M402.0 195.8A21.2 21.2 0 0 1 402.0 238.2L396.6 238.2A21.2 21.2 0 0 0 396.6 195.8Z" fill="url(#wv1)" mask="url(#wm1)"/><path d="M401.5 178.2A35.8 35.8 0 0 1 401.5 249.8L395.1 249.8A35.8 35.8 0 0 0 395.1 178.2Z" fill="url(#wv2)" mask="url(#wm2)"/></g>
<!-- TV -->
<g fill="none" stroke="#383838">
<rect x="53.5" y="139.6" width="44" height="28" rx="2.5" stroke-width="1.8"/>
<path d="M62.8 172.2H88" stroke-width="1.7"/>
</g>
<text x="64.6" y="160" font-size="16.3px" fill="#383838" stroke="#383838" stroke-width="0.3" textLength="21.6" lengthAdjust="spacingAndGlyphs">TV</text>
<!-- Computer -->
<rect x="54" y="202.7" width="45" height="23.4" rx="1.2" fill="none" stroke="#0a0a0a" stroke-width="2"/>
<path d="M72.4 227.5H81.4L83.4 233.4H69.8Z" fill="#0a0a0a"/>
<!-- MP3 -->
<defs>
<linearGradient id="mp3G" x1="0" y1="0" x2="0" y2="1">
<stop offset="0" stop-color="#5e94dc"/>
<stop offset="0.5" stop-color="#3f78c6"/>
<stop offset="1" stop-color="#2a5ba6"/>
</linearGradient>
<radialGradient id="mp3S"><stop offset="0.85" stop-color="#000" stop-opacity="0.18"/><stop offset="1" stop-color="#000" stop-opacity="0"/></radialGradient>
</defs>
<circle cx="77.3" cy="284.6" r="28.2" fill="url(#mp3S)"/>
<circle cx="77.3" cy="284" r="26.2" fill="#fbfbfb"/>
<circle cx="77.3" cy="284" r="24.3" fill="url(#mp3G)"/>
<text x="55.6" y="289.8" font-size="16.6px" font-weight="bold" fill="#fff" stroke="#fff" stroke-width="0.5" textLength="42.6" lengthAdjust="spacingAndGlyphs">MP3</text>
<!-- Headphones -->
<path d="M407.7 158V155A16.65 16.65 0 0 1 441 155V158" fill="none" stroke="#0a0a0a" stroke-width="2"/>
<path d="M406.9 157.5H411.5V170.8H409A2.1 2.1 0 0 1 406.9 168.7Z" fill="#0a0a0a"/>
<rect x="412.1" y="157.5" width="1.5" height="13.3" fill="#0a0a0a"/>
<path d="M436.7 157.5H441.7V168.7A2.1 2.1 0 0 1 439.6 170.8H436.7Z" fill="#0a0a0a"/>
<rect x="434.8" y="157.5" width="1.5" height="13.3" fill="#0a0a0a"/>
<!-- BT speaker -->
<g fill="none" stroke="#0a0a0a">
<rect x="418.5" y="259.2" width="37" height="43.8" rx="4" stroke-width="2"/>
<circle cx="436.6" cy="268.8" r="3.7" stroke-width="1.6"/>
<circle cx="436.8" cy="288" r="10.1" stroke-width="1.8"/>
<path d="M422.2 307.2H429M444.5 307.2H451.2" stroke-width="1.5"/>
</g>
<g fill="#0a0a0a">
<circle cx="423" cy="265" r="1"/><circle cx="450.5" cy="265" r="1"/><circle cx="423" cy="298" r="1"/><circle cx="450.5" cy="298" r="1"/>
<path d="M433.6 284.4L440 291.4L436.4 295V280.6L440 284.3L433.6 291.3" fill="none" stroke="#0a0a0a" stroke-width="2" stroke-miterlimit="4"/>
</g>
<!-- Phone -->
<g fill="none" stroke="#4a4a4a" stroke-width="1.2">
<rect x="106.45" y="421.45" width="19.9" height="36.1" rx="3"/>
<path d="M106.45 425.4H126.35M106.45 451.25H126.35"/>
<path d="M114 423.3H119.5M109.5 454.6H113M120.5 454.6H124" stroke-width="0.8"/>
</g>
<rect x="115.5" y="453.5" width="2.2" height="2.2" fill="#4a4a4a"/>
<!-- Tablet -->
<g fill="none" stroke="#4a4a4a">
<rect x="100.65" y="476.45" width="34.7" height="42.4" rx="4.5" stroke-width="1.2"/>
<rect x="104.55" y="479.75" width="26.9" height="34.5" rx="0.8" stroke-width="1"/>
</g>
<rect x="116.5" y="515.8" width="3" height="1.4" fill="#4a4a4a"/>
<circle cx="118" cy="477.6" r="0.5" fill="#4a4a4a"/>
<!-- Game console -->
<g fill="none" stroke="#0a0a0a">
<path d="M105.5 546.4H136.1L141.1 551.8V561.6L136.1 566.9H105.5L100.4 561.6V551.8Z" stroke-width="1.8"/>
<rect x="113.25" y="550.25" width="15" height="12.8" stroke-width="1.5"/>
</g>
<g fill="#0a0a0a">
<circle cx="106" cy="553.4" r="1.2"/><circle cx="106" cy="559.6" r="1.2"/><circle cx="102.9" cy="556.5" r="1.2"/><circle cx="109.1" cy="556.5" r="1.2"/>
<circle cx="135.2" cy="553.4" r="1.2"/><circle cx="135.2" cy="559.6" r="1.2"/><circle cx="132.1" cy="556.5" r="1.2"/><circle cx="138.3" cy="556.5" r="1.2"/>
</g>
<!-- Earphone -->
<g fill="none" stroke="#0a0a0a">
<rect x="466.8" y="435.2" width="7.2" height="35.6" rx="3.6" stroke-width="2.4"/>
<path d="M470.3 471V493.1" stroke-width="2.2"/>
<ellipse cx="487.9" cy="445.9" rx="8" ry="9.2" stroke-width="2.3"/>
<ellipse cx="492.6" cy="446.2" rx="3.6" ry="7.9" stroke-width="1.8"/>
</g>
<rect x="475" y="440" width="2.5" height="12.5" fill="#0a0a0a"/>
<!-- Wired speaker -->
<rect x="466.2" y="513.8" width="32" height="42.2" rx="2.5" fill="#0a0a0a"/>
<g fill="#fff">
<circle cx="490" cy="521.5" r="4"/>
<circle cx="482" cy="540" r="11.5"/>
<circle cx="482" cy="540" r="7" fill="#0a0a0a"/>
<circle cx="482" cy="540" r="2.5"/>
<circle cx="470.5" cy="517.5" r="1.3"/>
<circle cx="494" cy="552" r="1.3"/>
</g>

</svg>
</body></html>
